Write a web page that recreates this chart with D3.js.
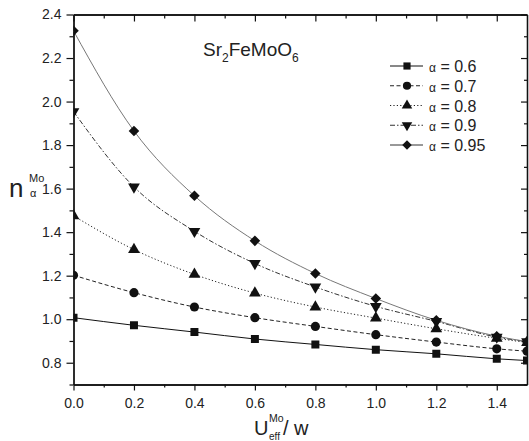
<!DOCTYPE html>
<html>
<head>
<meta charset="utf-8">
<script src="https://cdn.jsdelivr.net/npm/d3@7"></script>
<style>
  body { margin: 0; background: #fff; }
  svg { display: block; font-family: "Liberation Sans", Arial, sans-serif; }
</style>
</head>
<body>
<div id="chart"></div>
<script>
// values
const uValues = [0, 0.2, 0.4, 0.6, 0.8, 1.0, 1.2, 1.4, 1.5];
const alpha06 = [1.007, 0.972, 0.941, 0.909, 0.884, 0.860, 0.841, 0.818, 0.810];
const alpha07 = [1.202, 1.122, 1.056, 1.007, 0.967, 0.929, 0.895, 0.864, 0.853];
const alpha08 = [1.475, 1.320, 1.206, 1.120, 1.056, 1.005, 0.956, 0.912, 0.893];
const alpha09 = [1.954, 1.608, 1.404, 1.256, 1.148, 1.059, 0.990, 0.918, 0.897];
const alpha095 = [2.325, 1.865, 1.567, 1.360, 1.210, 1.095, 0.995, 0.922, 0.897];
const seriesLabels = ['0.6', '0.7', '0.8', '0.9', '0.95'];
const xTicks = [0, 0.2, 0.4, 0.6, 0.8, 1.0, 1.2, 1.4];
const yTicks = [0.8, 1.0, 1.2, 1.4, 1.6, 1.8, 2.0, 2.2, 2.4];

const W = 529, H = 441;
const box = { left: 73.5, right: 527, top: 14.5, bottom: 384.5 };

const series = [
  { label: seriesLabels[0], values: alpha06, dash: null, color: '#111', symbol: d3.symbolSquare, size: 64, rotate: 0 },
  { label: seriesLabels[1], values: alpha07, dash: '4,2.5', color: '#222', symbol: d3.symbolCircle, size: 66, rotate: 0 },
  { label: seriesLabels[2], values: alpha08, dash: '1.2,2.2', color: '#222', symbol: d3.symbolTriangle, size: 60, rotate: 0 },
  { label: seriesLabels[3], values: alpha09, dash: '5,2,1.5,2', color: '#333', symbol: d3.symbolTriangle, size: 60, rotate: 180 },
  { label: seriesLabels[4], values: alpha095, dash: null, color: '#777', symbol: d3.symbolSquare, size: 56, rotate: 45 }
];

const svg = d3.select('#chart').append('svg')
  .attr('width', W)
  .attr('height', H);

const x = d3.scaleLinear().domain([0, 1.5]).range([box.left, box.right]);
const y = d3.scaleLinear().domain([0.7, 2.4]).range([box.bottom, box.top]);

const minorX = d3.range(0, 1.51, 0.1).map(v => +v.toFixed(2)).filter(v => !xTicks.includes(v) && v !== 1.5);
const minorY = d3.range(0.7, 2.41, 0.1).map(v => +v.toFixed(2)).filter(v => !yTicks.includes(v));

function styleAxis(g) {
  g.select('.domain').attr('stroke', '#111').attr('stroke-width', 1.3);
  g.selectAll('.tick line').attr('stroke', '#111').attr('stroke-width', 1.2);
  g.selectAll('.tick text').attr('fill', '#222').attr('font-size', '14px')
    .attr('font-family', '"Liberation Sans", Arial, sans-serif');
}

// bottom axis (ticks out)
svg.append('g').attr('transform', `translate(0,${box.bottom})`)
  .call(d3.axisBottom(x).tickValues(xTicks).tickSize(6).tickSizeOuter(0).tickPadding(8).tickFormat(d3.format('.1f')))
  .call(styleAxis);
svg.append('g').attr('transform', `translate(0,${box.bottom})`)
  .call(d3.axisBottom(x).tickValues(minorX).tickSize(3).tickSizeOuter(0).tickFormat(''))
  .call(styleAxis);

// top axis (ticks in)
svg.append('g').attr('transform', `translate(0,${box.top})`)
  .call(d3.axisTop(x).tickValues(xTicks).tickSize(-7).tickSizeOuter(0).tickFormat(''))
  .call(styleAxis);
svg.append('g').attr('transform', `translate(0,${box.top})`)
  .call(d3.axisTop(x).tickValues(minorX).tickSize(-4).tickSizeOuter(0).tickFormat(''))
  .call(styleAxis);

// left axis (ticks out)
svg.append('g').attr('transform', `translate(${box.left},0)`)
  .call(d3.axisLeft(y).tickValues(yTicks).tickSize(7).tickSizeOuter(0).tickPadding(5).tickFormat(d3.format('.1f')))
  .call(styleAxis);
svg.append('g').attr('transform', `translate(${box.left},0)`)
  .call(d3.axisLeft(y).tickValues(minorY).tickSize(4).tickSizeOuter(0).tickFormat(''))
  .call(styleAxis);

// right axis (ticks in)
svg.append('g').attr('transform', `translate(${box.right},0)`)
  .call(d3.axisRight(y).tickValues(yTicks).tickSize(-6).tickSizeOuter(0).tickFormat(''))
  .call(styleAxis);
svg.append('g').attr('transform', `translate(${box.right},0)`)
  .call(d3.axisRight(y).tickValues(minorY).tickSize(-3).tickSizeOuter(0).tickFormat(''))
  .call(styleAxis);

// clip for data
svg.append('defs').append('clipPath').attr('id', 'plot-clip')
  .append('rect')
  .attr('x', box.left).attr('y', box.top)
  .attr('width', box.right - box.left).attr('height', box.bottom - box.top);

const plot = svg.append('g').attr('clip-path', 'url(#plot-clip)');

const line = d3.line()
  .x(d => x(d.u))
  .y(d => y(d.v))
  .curve(d3.curveMonotoneX);

series.forEach(s => {
  const pts = uValues.map((u, i) => ({ u, v: s.values[i] }));
  plot.append('path')
    .attr('d', line(pts))
    .attr('fill', 'none')
    .attr('stroke', s.color)
    .attr('stroke-width', 1)
    .attr('stroke-dasharray', s.dash);
});

series.forEach(s => {
  const sym = d3.symbol().type(s.symbol).size(s.size);
  plot.append('g').selectAll('path')
    .data(uValues.map((u, i) => ({ u, v: s.values[i] })))
    .join('path')
    .attr('d', sym)
    .attr('transform', d => `translate(${x(d.u)},${y(d.v)}) rotate(${s.rotate})`)
    .attr('fill', '#111');
});

// title
svg.append('text')
  .attr('x', 203).attr('y', 56)
  .attr('font-size', '19px').attr('fill', '#222')
  .call(t => {
    t.append('tspan').text('Sr');
    t.append('tspan').attr('font-size', '12px').attr('dy', 6).text('2');
    t.append('tspan').attr('dy', -6).text('FeMoO');
    t.append('tspan').attr('font-size', '12px').attr('dy', 6).text('6');
  });

// y axis title
svg.append('text').attr('x', 9).attr('y', 197).attr('font-size', '26px').attr('fill', '#222').text('n');
svg.append('text').attr('x', 29).attr('y', 182).attr('font-size', '11px').attr('fill', '#222').text('Mo');
svg.append('text').attr('x', 30).attr('y', 197).attr('font-size', '11px').attr('fill', '#222').text('α');

// x axis title
svg.append('text').attr('x', 254).attr('y', 435).attr('font-size', '20px').attr('fill', '#222').text('U');
svg.append('text').attr('x', 269).attr('y', 422).attr('font-size', '10.5px').attr('fill', '#222').text('Mo');
svg.append('text').attr('x', 269).attr('y', 440).attr('font-size', '10px').attr('fill', '#222').text('eff');
svg.append('text').attr('x', 283).attr('y', 435).attr('font-size', '20px').attr('fill', '#222').text('/ w');

// legend
const legend = svg.append('g');
const legendY = d3.scaleLinear().domain([0, 4]).range([66, 145]);
series.forEach((s, i) => {
  const ly = legendY(i);
  legend.append('line')
    .attr('x1', 390).attr('x2', 423).attr('y1', ly).attr('y2', ly)
    .attr('stroke', s.color === '#777' ? '#333' : s.color)
    .attr('stroke-width', 1)
    .attr('stroke-dasharray', s.dash);
  legend.append('path')
    .attr('d', d3.symbol().type(s.symbol).size(s.size * 0.8))
    .attr('transform', `translate(407,${ly}) rotate(${s.rotate})`)
    .attr('fill', '#111');
  const t = legend.append('text').attr('x', 429).attr('y', ly + 6).attr('fill', '#222');
  t.append('tspan').attr('font-size', '12px').text('α');
  t.append('tspan').attr('font-size', '16px').text(' = ' + s.label);
});
</script>
</body>
</html>
